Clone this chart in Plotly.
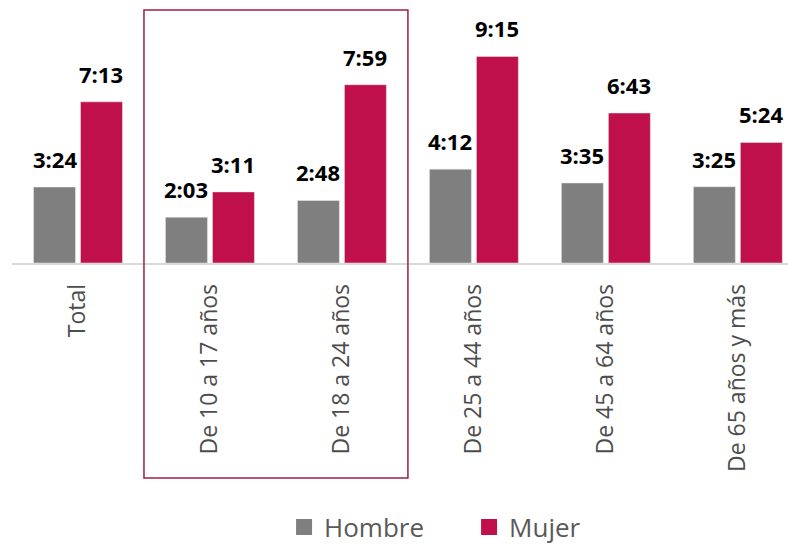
import plotly.graph_objects as go

categories = ["Total", "De 10 a 17 años", "De 18 a 24 años", "De 25 a 44 años",
              "De 45 a 64 años", "De 65 años y más"]
# minutos diarios
hombre_min = [204, 123, 168, 252, 215, 205]
mujer_min = [433, 191, 479, 555, 403, 324]

GRAY = "#7F7F7F"
RED = "#C0104C"
BARGAP = 0.288


def hhmm(m):
    return f"{m // 60}:{m % 60:02d}"


fig = go.Figure()

fig.add_trace(go.Bar(x=categories, y=hombre_min, name="Hombre",
                     marker=dict(color=GRAY), showlegend=False))
fig.add_trace(go.Bar(x=categories, y=mujer_min, name="Mujer",
                     marker=dict(color=RED), showlegend=False))

# legend entries with bigger square markers
for name, col in [("Hombre", GRAY), ("Mujer", RED)]:
    fig.add_trace(go.Scatter(x=[None], y=[None], mode="markers", name=name,
                             marker=dict(symbol="square", size=16, color=col)))

# value labels above bars
slot = (1 - BARGAP) / 2
for vals, off in [(hombre_min, -slot / 2), (mujer_min, slot / 2)]:
    for i, v in enumerate(vals):
        fig.add_annotation(x=i + off, y=v, text=f"<b>{hhmm(v)}</b>", showarrow=False,
                           yanchor="bottom", yshift=11,
                           font=dict(family="Open Sans", size=22, color="#000000"))

# recuadro sobre los grupos jóvenes
fig.add_shape(type="rect", xref="x", yref="paper",
              x0=0.5, x1=2.5, y0=-0.923, y1=1.086,
              line=dict(color="#9E1E4C", width=1.5))

fig.update_layout(
    width=788, height=546,
    margin=dict(l=12, r=0, t=30, b=283, autoexpand=False),
    barmode="group", bargap=BARGAP, bargroupgap=0.107,
    plot_bgcolor="white", paper_bgcolor="white",
    font=dict(family="Open Sans", color="#595959"),
    showlegend=True,
    legend=dict(orientation="h", x=0.589, xanchor="center", y=-1.133, yanchor="middle",
                font=dict(size=26, color="#595959"), entrywidth=140,
                traceorder="normal"),
)
fig.update_xaxes(range=[-0.5, 5.38], tickangle=-90, showline=True,
                 linecolor="#D9D9D9", linewidth=1.5, ticks="",
                 tickfont=dict(size=23, color="#4D4D4D"), ticklabelstandoff=10,
                 automargin=False)
fig.update_yaxes(range=[0, 626], visible=False, showgrid=False)

# figure fills the window exactly: no page margin, no scrolling
page_css = ("document.body.style.margin='0';"
            "document.body.style.overflow='hidden';"
            "document.documentElement.style.overflow='hidden';")
fig.write_html("out.html", config={"displayModeBar": False}, post_script=page_css)
